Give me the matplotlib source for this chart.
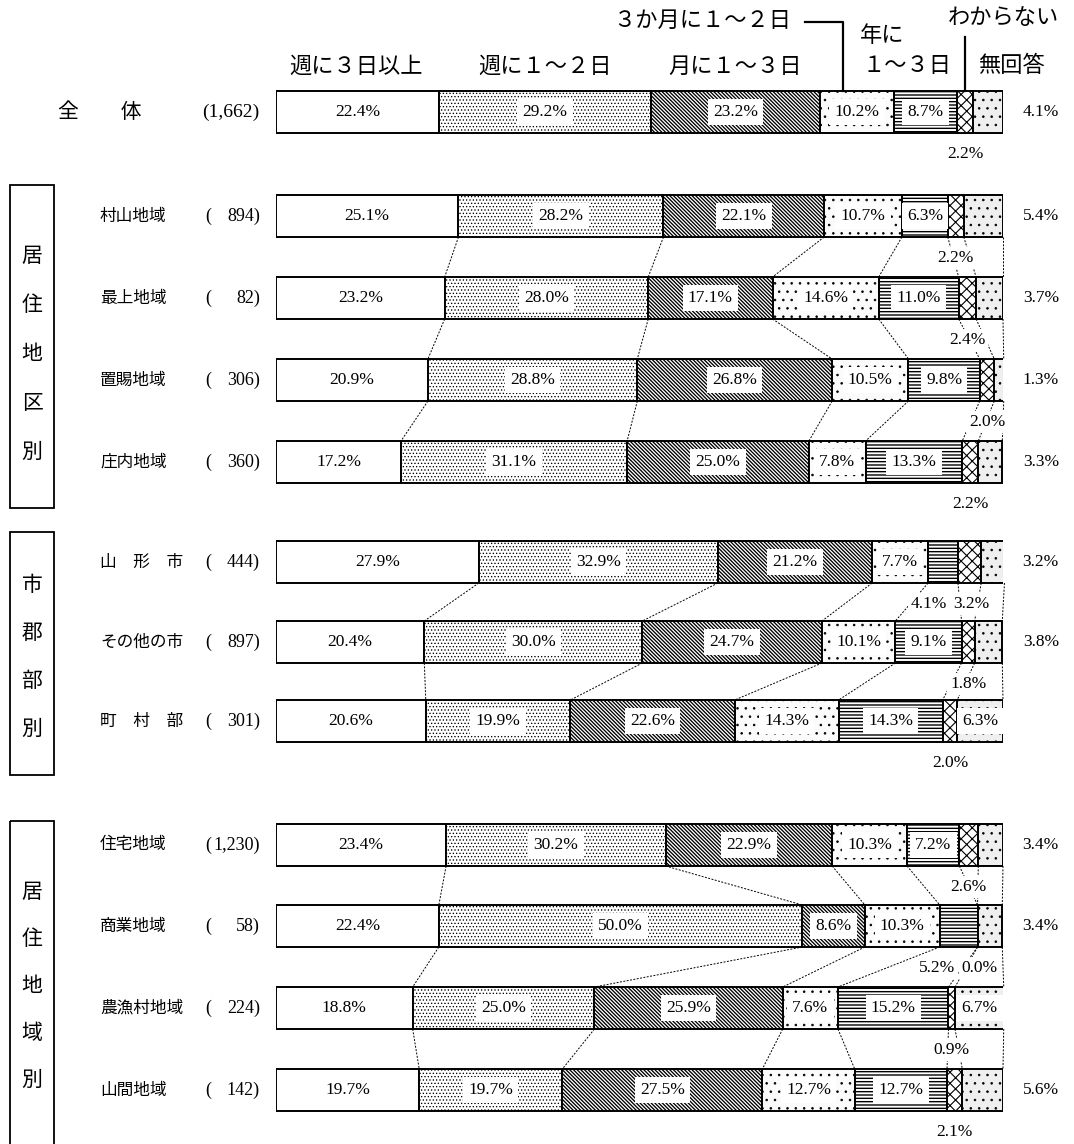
import matplotlib
matplotlib.use('Agg')
import matplotlib.pyplot as plt
from matplotlib.patches import Rectangle
import numpy as np

plt.rcParams['font.family'] = ['Liberation Serif', 'Noto Sans CJK JP', 'DejaVu Sans']
JP = ['Noto Sans CJK JP', 'DejaVu Sans']

## data
categories = ['週に３日以上', '週に１～２日', '月に１～３日', '３か月に１～２日',
              '年に１～３日', 'わからない', '無回答']
row_names = ['全　　体', '村山地域', '最上地域', '置賜地域', '庄内地域',
             '山　形　市', 'その他の市', '町　村　部',
             '住宅地域', '商業地域', '農漁村地域', '山間地域']
row_n = ['1,662', '894', '82', '306', '360', '444', '897', '301',
         '1,230', '58', '224', '142']

week3 = [22.4, 25.1, 23.2, 20.9, 17.2, 27.9, 20.4, 20.6, 23.4, 22.4, 18.8, 19.7]
week12 = [29.2, 28.2, 28.0, 28.8, 31.1, 32.9, 30.0, 19.9, 30.2, 50.0, 25.0, 19.7]
month13 = [23.2, 22.1, 17.1, 26.8, 25.0, 21.2, 24.7, 22.6, 22.9, 8.6, 25.9, 27.5]
month3_12 = [10.2, 10.7, 14.6, 10.5, 7.8, 7.7, 10.1, 14.3, 10.3, 10.3, 7.6, 12.7]
year13 = [8.7, 6.3, 11.0, 9.8, 13.3, 4.1, 9.1, 14.3, 7.2, 5.2, 15.2, 12.7]
unknown = [2.2, 2.2, 2.4, 2.0, 2.2, 3.2, 1.8, 2.0, 2.6, 0.0, 0.9, 2.1]
no_answer = [4.1, 5.4, 3.7, 1.3, 3.3, 3.2, 3.8, 6.3, 3.4, 3.4, 6.7, 5.6]

groups = [('居住地区別', [1, 2, 3, 4]),
          ('市郡部別', [5, 6, 7]),
          ('居住地域別', [8, 9, 10, 11])]

data = np.array([week3, week12, month13, month3_12, year13, unknown, no_answer]).T
cum = np.hstack([np.zeros((len(data), 1)), np.cumsum(data, axis=1)])

## layout (pixels)
W, H = 1074, 1144
X0, X1 = 276, 1003
row_y = np.array([112, 216, 298, 380, 462, 562, 642, 721, 845, 926, 1008, 1090])
bar_h = 42
box_layout = [(185, 508, 256, 49), (532, 775, 585, 48), (821, 1170, 892, 47)]

faces = ['white', 'white', 'white', '#fbfbfb', 'white', 'white', '#efefef']
hatches = [None, '.....', '\\' * 9, '..', '-----', 'xxx', '..']
hatch_lw = [0.8, 0.55, 0.95, 0.6, 1.0, 0.8, 0.6]
# nudges for labels below the bar (percent units)
below_dx = {(5, 4): -2.0, (9, 4): -3.0, (5, 5): 0.3, (9, 5): 0.3}

fig = plt.figure(figsize=(W / 100, H / 100), dpi=100)
ov = fig.add_axes([0, 0, 1, 1])
ov.set_xlim(0, W)
ov.set_ylim(H, 0)
ov.axis('off')

ax = fig.add_axes([X0 / W, 0, (X1 - X0) / W, 1])
ax.set_xlim(0, 100)
ax.set_ylim(H, 0)
ax.axis('off')

## stacked bars
for k in range(len(categories)):
    with plt.rc_context({'hatch.linewidth': hatch_lw[k]}):
        bars = ax.barh(row_y, data[:, k], left=cum[:, k], height=bar_h,
                       color=faces[k], edgecolor='black', hatch=hatches[k],
                       linewidth=1.4, zorder=3)
    for p in bars:
        if hasattr(p, 'set_hatch_linewidth'):
            p.set_hatch_linewidth(hatch_lw[k])

## dotted connectors inside each group
for name, members in groups:
    for a, b in zip(members[:-1], members[1:]):
        for k in range(1, len(categories) + 1):
            ax.plot([cum[a, k], cum[b, k]],
                    [row_y[a] + bar_h / 2, row_y[b] - bar_h / 2],
                    color='black', lw=0.7, ls=(0, (2, 1.5)), zorder=2,
                    clip_on=False)

## value labels
for i in range(len(data)):
    y = row_y[i]
    for k in range(len(categories)):
        v = data[i, k]
        txt = f'{v:.1f}%'
        xc = cum[i, k] + v / 2
        if k == 5 or (k == 4 and v < 6):
            ax.text(xc + below_dx.get((i, k), 0), y + 42, txt, ha='center',
                    va='center', fontsize=12.5, zorder=5, clip_on=False,
                    bbox=dict(boxstyle='square,pad=0.15', fc='white', ec='none'))
        elif k == 6 and v < 6:
            ax.text(105.2, y, txt, ha='center', va='center', fontsize=12.5,
                    clip_on=False)
        else:
            bbox = None
            if k > 0:
                bbox = dict(boxstyle='square,pad=0.3', fc='white', ec='none')
            ax.text(xc, y, txt, ha='center', va='center', fontsize=12.5,
                    bbox=bbox, zorder=4)

## row labels
for i, (name, n) in enumerate(zip(row_names, row_n)):
    y = row_y[i]
    if i == 0:
        ov.text(58, y, name, fontsize=15, family=JP, va='center')
        ov.text(259, y, f'({n})', fontsize=14, ha='right', va='center')
    else:
        ov.text(100, y, name, fontsize=12, family=JP, va='center')
        ov.text(205, y, '(', fontsize=13, va='center')
        ov.text(260, y, f'{n})', fontsize=13, ha='right', va='center')

## group boxes
for (title, members), (top, bottom, cy, step) in zip(groups, box_layout):
    ov.add_patch(Rectangle((10, top), 44, bottom - top, fill=False,
                           lw=1.3, ec='black'))
    for j, ch in enumerate(title):
        ov.text(32, cy + j * step, ch, fontsize=15, family=JP,
                ha='center', va='center')

## header
hdr = dict(fontsize=16, family=JP, ha='center', va='center')
ov.text(356, 66, categories[0], **hdr)
ov.text(545, 66, categories[1], **hdr)
ov.text(735, 66, categories[2], **hdr)
ov.text(702, 20, categories[3], **hdr)
ov.text(882, 35, '年に', **hdr)
ov.text(907, 66, '１～３日', **hdr)
ov.text(1003, 18, categories[5], **hdr)
ov.text(1011, 66, categories[6], **hdr)

top0 = row_y[0] - bar_h / 2
xl = cum[0, 3] + 3.2
ax.plot([xl - 5.2, xl, xl], [22, 22, top0], color='black', lw=1.6,
        clip_on=False, zorder=5)
xw = cum[0, 5] + data[0, 5] / 2
ax.plot([xw, xw], [37, top0], color='black', lw=1.6, clip_on=False, zorder=5)

fig.savefig('out.png', dpi=100)
